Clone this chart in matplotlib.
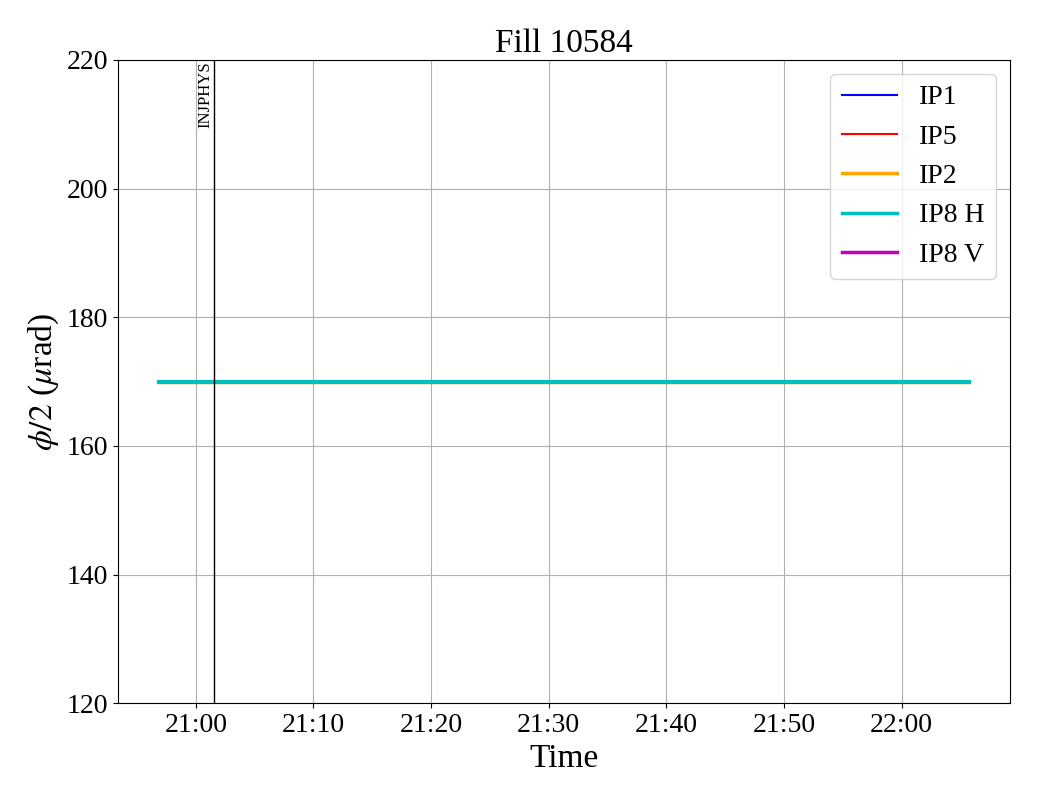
import numpy as np
import pandas as pd
import matplotlib
matplotlib.use("Agg")
import matplotlib.pyplot as plt
import matplotlib.dates as mdates

plt.rcParams["font.family"] = ["Liberation Serif", "DejaVu Serif"]
plt.rcParams["mathtext.fontset"] = "stix"

# data
fill = 10584
times = pd.to_datetime(["2024-05-20 20:56:50", "2024-05-20 22:05:45"])
ip1 = []
ip5 = []
ip2 = [170.0, 170.0]
ip8h = [170.0, 170.0]
ip8v = []
marker_time = pd.Timestamp("2024-05-20 21:01:32")
marker_label = "INJPHYS"

fig, ax = plt.subplots(figsize=(10.4, 8), dpi=100)
fig.subplots_adjust(left=0.1135, right=0.971, top=0.925, bottom=0.121)

ax.plot(times[:len(ip1)], ip1, color="b", lw=1.5, label="IP1")
ax.plot(times[:len(ip5)], ip5, color="r", lw=1.5, label="IP5")
ax.plot(times, ip2, color="orange", lw=2.5, label="IP2")
ax.plot(times, ip8h, color="c", lw=3, label="IP8 H")
ax.plot(times[:len(ip8v)], ip8v, color="m", lw=2.5, label="IP8 V")

ax.axvline(marker_time, color="k", lw=1)
ax.text(marker_time, 219.8, marker_label, rotation=90, ha="right", va="top",
        fontsize=12)

ax.set_ylim(120, 220)
ax.xaxis.set_major_locator(mdates.MinuteLocator(byminute=range(0, 60, 10)))
ax.xaxis.set_major_formatter(mdates.DateFormatter("%H:%M"))
ax.grid(True)
ax.tick_params(labelsize=20)
ax.set_xlabel("Time", fontsize=24)
ax.set_ylabel(r"$\phi/2$ ($\mu$rad)", fontsize=24)
ax.set_title(f"Fill {fill}", fontsize=24)
leg = ax.legend(loc="upper right", fontsize=20)
leg.get_lines()[3].set_linewidth(2.5)

fig.savefig("out.png", dpi=100)
